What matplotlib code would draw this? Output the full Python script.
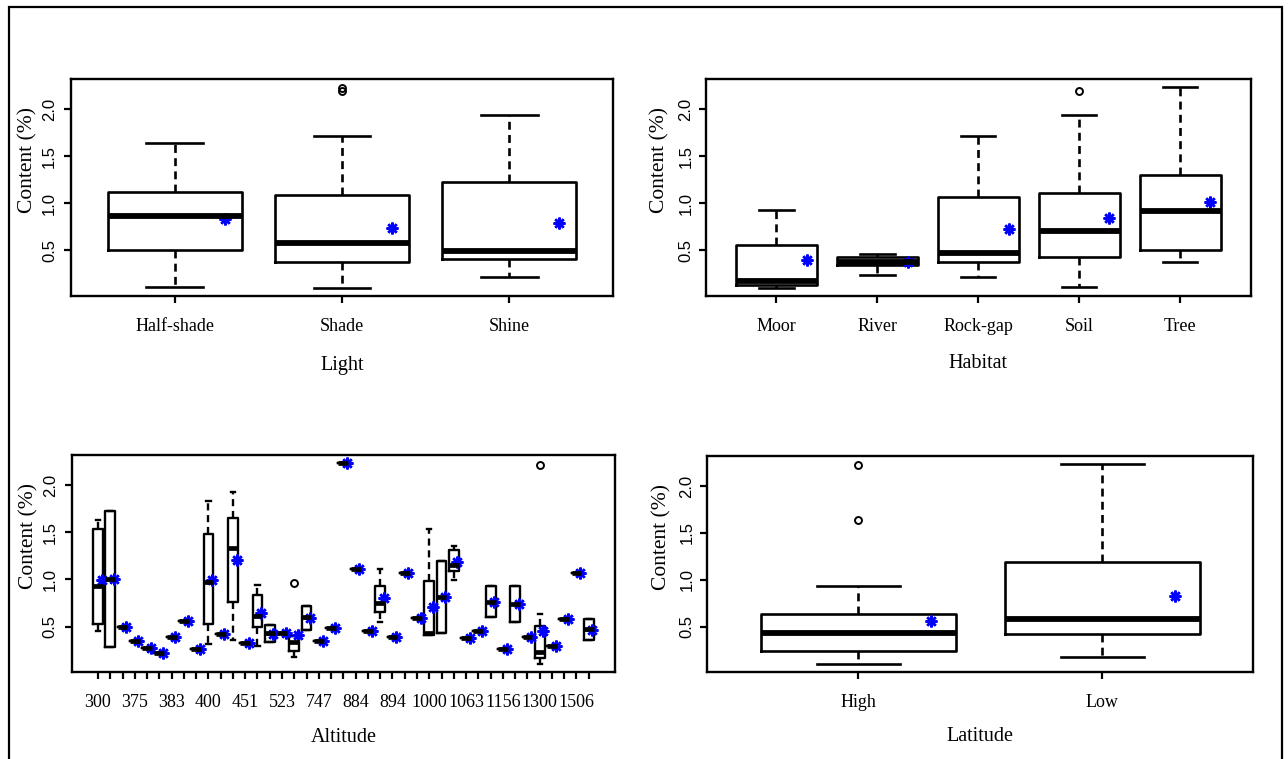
import matplotlib
matplotlib.use("Agg")
import matplotlib.pyplot as plt
from matplotlib.patches import Rectangle
import numpy as np

# ---- Light ----
light_cats = ["Half-shade", "Shade", "Shine"]
light_lo = [0.115, 0.105, 0.221]
light_q1 = [0.507, 0.383, 0.412]
light_med = [0.868, 0.578, 0.497]
light_q3 = [1.119, 1.093, 1.231]
light_hi = [1.638, 1.715, 1.937]
light_mean = [0.833, 0.737, 0.793]
light_fliers = [[], [2.19, 2.222], []]

# ---- Habitat ----
hab_cats = ["Moor", "River", "Rock-gap", "Soil", "Tree"]
hab_lo = [0.098, 0.243, 0.221, 0.115, 0.383]
hab_q1 = [0.134, 0.341, 0.380, 0.426, 0.504]
hab_med = [0.172, 0.373, 0.472, 0.702, 0.924]
hab_q3 = [0.553, 0.426, 1.072, 1.114, 1.299]
hab_hi = [0.934, 0.465, 1.715, 1.934, 2.230]
hab_mean = [0.400, 0.373, 0.727, 0.843, 1.013]
hab_fliers = [[], [], [], [2.195], []]

# ---- Altitude (41 levels, only every third label is printed) ----
alt_shown_labels = ["300", "375", "383", "400", "451", "523", "747",
                    "884", "894", "1000", "1063", "1156", "1300", "1506"]
alt_lo = [0.454, 0.280, 0.500, 0.351, 0.269, 0.223, 0.386, 0.557, 0.258, 0.315,
          0.420, 0.358, 0.329, 0.290, 0.337, 0.436, 0.177, 0.464, 0.347, 0.489,
          2.234, 1.111, 0.450, 0.550, 0.386, 1.065, 0.592, 0.415, 0.436, 0.998,
          0.383, 0.454, 0.603, 0.265, 0.553, 0.393, 0.098, 0.297, 0.582, 1.065,
          0.358]
alt_q1 = [0.528, 0.280, 0.500, 0.351, 0.269, 0.223, 0.386, 0.557, 0.258, 0.525,
          0.420, 0.763, 0.329, 0.496, 0.337, 0.436, 0.237, 0.464, 0.347, 0.489,
          2.234, 1.111, 0.450, 0.653, 0.386, 1.065, 0.592, 0.415, 0.436, 1.086,
          0.383, 0.454, 0.603, 0.265, 0.553, 0.393, 0.162, 0.297, 0.582, 1.065,
          0.358]
alt_med = [0.926, 1.000, 0.500, 0.351, 0.269, 0.223, 0.386, 0.557, 0.258, 0.976,
           0.420, 1.335, 0.329, 0.610, 0.429, 0.436, 0.333, 0.600, 0.347, 0.489,
           2.234, 1.111, 0.450, 0.749, 0.386, 1.065, 0.592, 0.436, 0.813, 1.150,
           0.383, 0.454, 0.763, 0.265, 0.742, 0.393, 0.230, 0.297, 0.582, 1.065,
           0.472]
alt_q3 = [1.531, 1.722, 0.500, 0.351, 0.269, 0.223, 0.386, 0.557, 0.258, 1.481,
          0.420, 1.655, 0.329, 0.834, 0.514, 0.436, 0.404, 0.713, 0.347, 0.489,
          2.234, 1.111, 0.450, 0.926, 0.386, 1.065, 0.592, 0.983, 1.193, 1.310,
          0.383, 0.454, 0.926, 0.265, 0.926, 0.393, 0.507, 0.297, 0.582, 1.065,
          0.582]
alt_hi = [1.634, 1.722, 0.500, 0.351, 0.269, 0.223, 0.386, 0.557, 0.258, 1.829,
          0.420, 1.932, 0.329, 0.937, 0.514, 0.436, 0.404, 0.713, 0.347, 0.489,
          2.234, 1.111, 0.450, 1.115, 0.386, 1.065, 0.592, 1.531, 1.193, 1.353,
          0.383, 0.454, 0.926, 0.265, 0.926, 0.393, 0.635, 0.297, 0.582, 1.065,
          0.582]
alt_mean = [0.998, 1.000, 0.500, 0.351, 0.269, 0.223, 0.386, 0.557, 0.258, 0.998,
            0.420, 1.204, 0.329, 0.639, 0.420, 0.436, 0.411, 0.589, 0.347, 0.489,
            2.234, 1.111, 0.450, 0.799, 0.386, 1.065, 0.592, 0.706, 0.813, 1.182,
            0.383, 0.454, 0.763, 0.265, 0.742, 0.393, 0.454, 0.297, 0.582, 1.065,
            0.464]
alt_fliers = {17: [0.962], 37: [2.213]}

# ---- Latitude ----
lat_cats = ["High", "Low"]
lat_lo = [0.098, 0.176]
lat_q1 = [0.240, 0.422]
lat_med = [0.436, 0.582]
lat_q3 = [0.632, 1.194]
lat_hi = [0.931, 2.240]
lat_mean = [0.557, 0.827]
lat_fliers = [[1.639, 2.219], []]

SERIF = ["Liberation Serif", "DejaVu Serif"]
SANS = ["Liberation Sans", "DejaVu Sans"]


def make_stats(lo, q1, med, q3, hi, fliers):
    stats = []
    for i in range(len(med)):
        stats.append(dict(whislo=lo[i], q1=q1[i], med=med[i], q3=q3[i],
                          whishi=hi[i], fliers=fliers[i]))
    return stats


def draw_panel(fig, rect, stats, means, xlim, xlabel, label_gap, ylab_x, ytick_pad,
               lw=1.9, medw=4.2):
    ax = fig.add_axes(rect)
    pos = np.arange(1, len(stats) + 1)
    ax.bxp(stats, positions=pos, widths=0.8, capwidths=0.34, manage_ticks=False,
           boxprops=dict(color="black", linewidth=lw),
           whiskerprops=dict(color="black", linewidth=lw, linestyle=(0, (3.0, 2.0))),
           capprops=dict(color="black", linewidth=lw),
           medianprops=dict(color="black", linewidth=medw, solid_capstyle="butt"),
           flierprops=dict(marker="o", markerfacecolor="none", markeredgecolor="black",
                           markersize=5, markeredgewidth=1.4))
    ax.plot(pos + 0.3, means, linestyle="none", marker=(8, 2, 0), color="blue",
            markersize=8.5, markeredgewidth=1.8)
    ax.set_xlim(*xlim)
    ax.set_ylim(0.017, 2.32)
    ax.set_yticks([0.5, 1.0, 1.5, 2.0])
    ax.set_yticklabels(["0.5", "1.0", "1.5", "2.0"], rotation=90, va="center",
                       family=SANS, fontsize=12)
    ax.tick_params(axis="both", length=5, width=1.6, direction="out", color="black")
    ax.tick_params(axis="y", pad=ytick_pad)
    ax.tick_params(axis="x", pad=11)
    for s in ax.spines.values():
        s.set_linewidth(1.7)
    ax.set_ylabel("Content (%)", family=SERIF, fontsize=15.5)
    ax.yaxis.set_label_coords(ylab_x, 0.625)
    ax.text(0.5, -label_gap, xlabel, transform=ax.transAxes, ha="center", va="center",
            family=SERIF, fontsize=14.5)
    return ax, pos


fig = plt.figure(figsize=(12.88, 7.59), dpi=100)

# outer frame
fig.patches.append(Rectangle((9 / 1288, -0.02), (1282 - 9) / 1288, 1 - 7 / 759 + 0.02,
                             transform=fig.transFigure, fill=False,
                             edgecolor="black", linewidth=1.6))

# Light
ax1, p1 = draw_panel(fig, [0.0551, 0.610, 0.4208, 0.286],
                     make_stats(light_lo, light_q1, light_med, light_q3, light_hi, light_fliers),
                     light_mean, (0.38, 3.62), "Light", 0.318, -0.061, 5)
ax1.set_xticks(p1)
ax1.set_xticklabels(light_cats, family=SERIF, fontsize=13)

# Habitat
ax2, p2 = draw_panel(fig, [0.548, 0.610, 0.4231, 0.286],
                     make_stats(hab_lo, hab_q1, hab_med, hab_q3, hab_hi, hab_fliers),
                     hab_mean, (0.3, 5.7), "Habitat", 0.31, -0.066, 4)
ax2.set_xticks(p2)
ax2.set_xticklabels(hab_cats, family=SERIF, fontsize=13)

# Altitude
alt_fl = [alt_fliers.get(i + 1, []) for i in range(len(alt_med))]
ax3, p3 = draw_panel(fig, [0.0557, 0.1146, 0.4218, 0.2859],
                     make_stats(alt_lo, alt_q1, alt_med, alt_q3, alt_hi, alt_fl),
                     alt_mean, (-1.14, 43.14), "Altitude", 0.30, -0.061, 5,
                     lw=1.7, medw=3.4)
ax3.set_xticks(p3)
alt_tick_text = [""] * len(p3)
for j, lab in enumerate(alt_shown_labels):
    alt_tick_text[3 * j] = lab
ax3.set_xticklabels(alt_tick_text, family=SERIF, fontsize=13)

# Latitude
ax4, p4 = draw_panel(fig, [0.549, 0.1146, 0.424, 0.2846],
                     make_stats(lat_lo, lat_q1, lat_med, lat_q3, lat_hi, lat_fliers),
                     lat_mean, (0.38, 2.62), "Latitude", 0.30, -0.066, 4)
ax4.set_xticks(p4)
ax4.set_xticklabels(lat_cats, family=SERIF, fontsize=13)

fig.savefig("out.png", dpi=100)
